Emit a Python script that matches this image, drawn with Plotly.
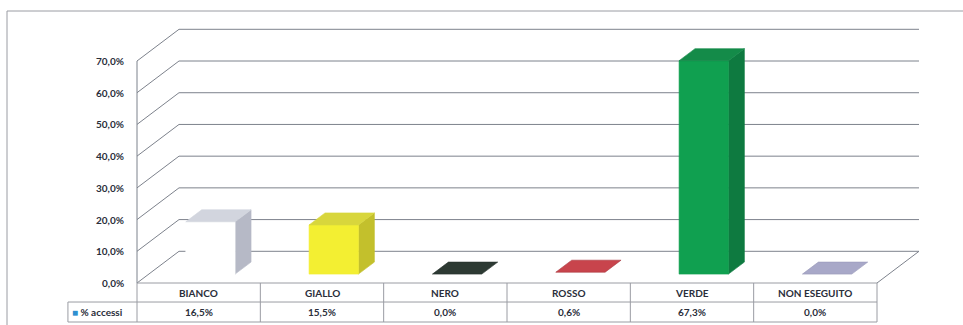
import plotly.graph_objects as go

# ---- data ----
categories = ["BIANCO", "GIALLO", "NERO", "ROSSO", "VERDE", "NON ESEGUITO"]
values = [16.5, 15.5, 0.0, 0.6, 67.3, 0.0]
value_labels = ["16,5%", "15,5%", "0,0%", "0,6%", "67,3%", "0,0%"]
tick_vals = [0, 10, 20, 30, 40, 50, 60, 70]
tick_labels = ["0,0%", "10,0%", "20,0%", "30,0%", "40,0%", "50,0%", "60,0%", "70,0%"]
series_name = "% accessi"

front_colors = ["#ffffff", "#f3ef32", "#2d3a33", "#c8444c", "#10a050", "#a8a8c8"]
top_colors = ["#d2d5de", "#d8d63c", "#2d3a33", "#c8444c", "#148b49", "#a8a8c8"]
side_colors = ["#b6b9c6", "#c3c02c", "#26302b", "#a8373e", "#0e7a40", "#9898b8"]

W, H = 963, 325
X0PX, X6PX = 137, 877      # front floor left / right
Y0PX, Y70PX = 283, 61      # front 0% and 70%
pxu_x = (X6PX - X0PX) / len(categories)
pxu_y = (Y0PX - Y70PX) / 70.0
xr = [-X0PX / pxu_x, (W - X0PX) / pxu_x]
yr = [-(H - Y0PX) / pxu_y, Y0PX / pxu_y]

DXU = 42 / pxu_x     # depth offset in x units
DYU = 31.7 / pxu_y   # depth offset in y units
ZF, ZB = 0.28, 0.66  # bar depth
BX0, BX1 = 0.30, 0.70

grid_col = "#7d828c"
txt_col = "#2a2e3a"
font = dict(family="Lato, Open Sans, sans-serif", size=10, color=txt_col, weight="bold")

fig = go.Figure()

def line(xs, ys, color=grid_col, width=1):
    fig.add_trace(go.Scatter(x=xs, y=ys, mode="lines", line=dict(color=color, width=width),
                             hoverinfo="skip", showlegend=False))

def poly(xs, ys, color, lc=None):
    fig.add_trace(go.Scatter(x=xs + [xs[0]], y=ys + [ys[0]], mode="lines", fill="toself",
                             fillcolor=color, line=dict(color=lc or color, width=0.6),
                             hoverinfo="skip", showlegend=False))

n = len(categories)
for t in tick_vals:
    line([DXU, n + DXU], [t + DYU, t + DYU])
    line([0, DXU], [t, t + DYU])
line([0, 0], [0, tick_vals[-1]])
line([n, n + DXU], [0, DYU])

for i, v in enumerate(values):
    x0, x1 = i + BX0, i + BX1
    fx0, fx1 = x0 + ZF * DXU, x1 + ZF * DXU
    bx0, bx1 = x0 + ZB * DXU, x1 + ZB * DXU
    fy, by = ZF * DYU, ZB * DYU
    if v > 0.8:
        poly([fx1, bx1, bx1, fx1], [fy, by, v + by, v + fy], side_colors[i])
        poly([fx0, fx1, fx1, fx0], [fy, fy, v + fy, v + fy], front_colors[i])
    lc = side_colors[i] if v <= 0.8 else None
    poly([fx0, fx1, bx1, bx0], [v + fy, v + fy, v + by, v + by], top_colors[i], lc)

LX = -0.56
ROW1, ROW2 = -6.0, -12.3
tcol = "#9a9ca3"
line([0, n], [0, 0], tcol)
line([LX, n], [ROW1, ROW1], tcol)
line([LX, n], [ROW2, ROW2], tcol)
line([LX, LX], [ROW1, ROW2], tcol)
for k in range(n + 1):
    line([k, k], [0, ROW2], tcol)

ann = []
for i, c in enumerate(categories):
    ann.append(dict(x=i + 0.5, y=ROW1 / 2, text=c, showarrow=False, font=font))
    ann.append(dict(x=i + 0.5, y=(ROW1 + ROW2) / 2, text=value_labels[i], showarrow=False, font=font))
ann.append(dict(x=LX, y=(ROW1 + ROW2) / 2, xanchor="left", xshift=2,
                text='<span style="color:#2e8fd0">■</span> ' + series_name,
                showarrow=False, font=font))
for t, lab in zip(tick_vals, tick_labels):
    ann.append(dict(x=0, y=t, text=lab, xanchor="right", xshift=-11, showarrow=False, font=font))

fig.update_layout(
    width=W, height=H, margin=dict(l=0, r=0, t=0, b=0),
    paper_bgcolor="white", plot_bgcolor="white",
    xaxis=dict(range=xr, visible=False, fixedrange=True),
    yaxis=dict(range=yr, visible=False, fixedrange=True),
    annotations=ann, showlegend=False,
    shapes=[
        dict(type="line", xref="paper", yref="paper", x0=7 / W, x1=1, y0=1 - 11 / H, y1=1 - 11 / H,
             line=dict(color="#9a9ca3", width=1)),
        dict(type="line", xref="paper", yref="paper", x0=7 / W, x1=7 / W, y0=0, y1=1 - 11 / H,
             line=dict(color="#9a9ca3", width=1)),
    ],
)

fig.write_html("out.html")
